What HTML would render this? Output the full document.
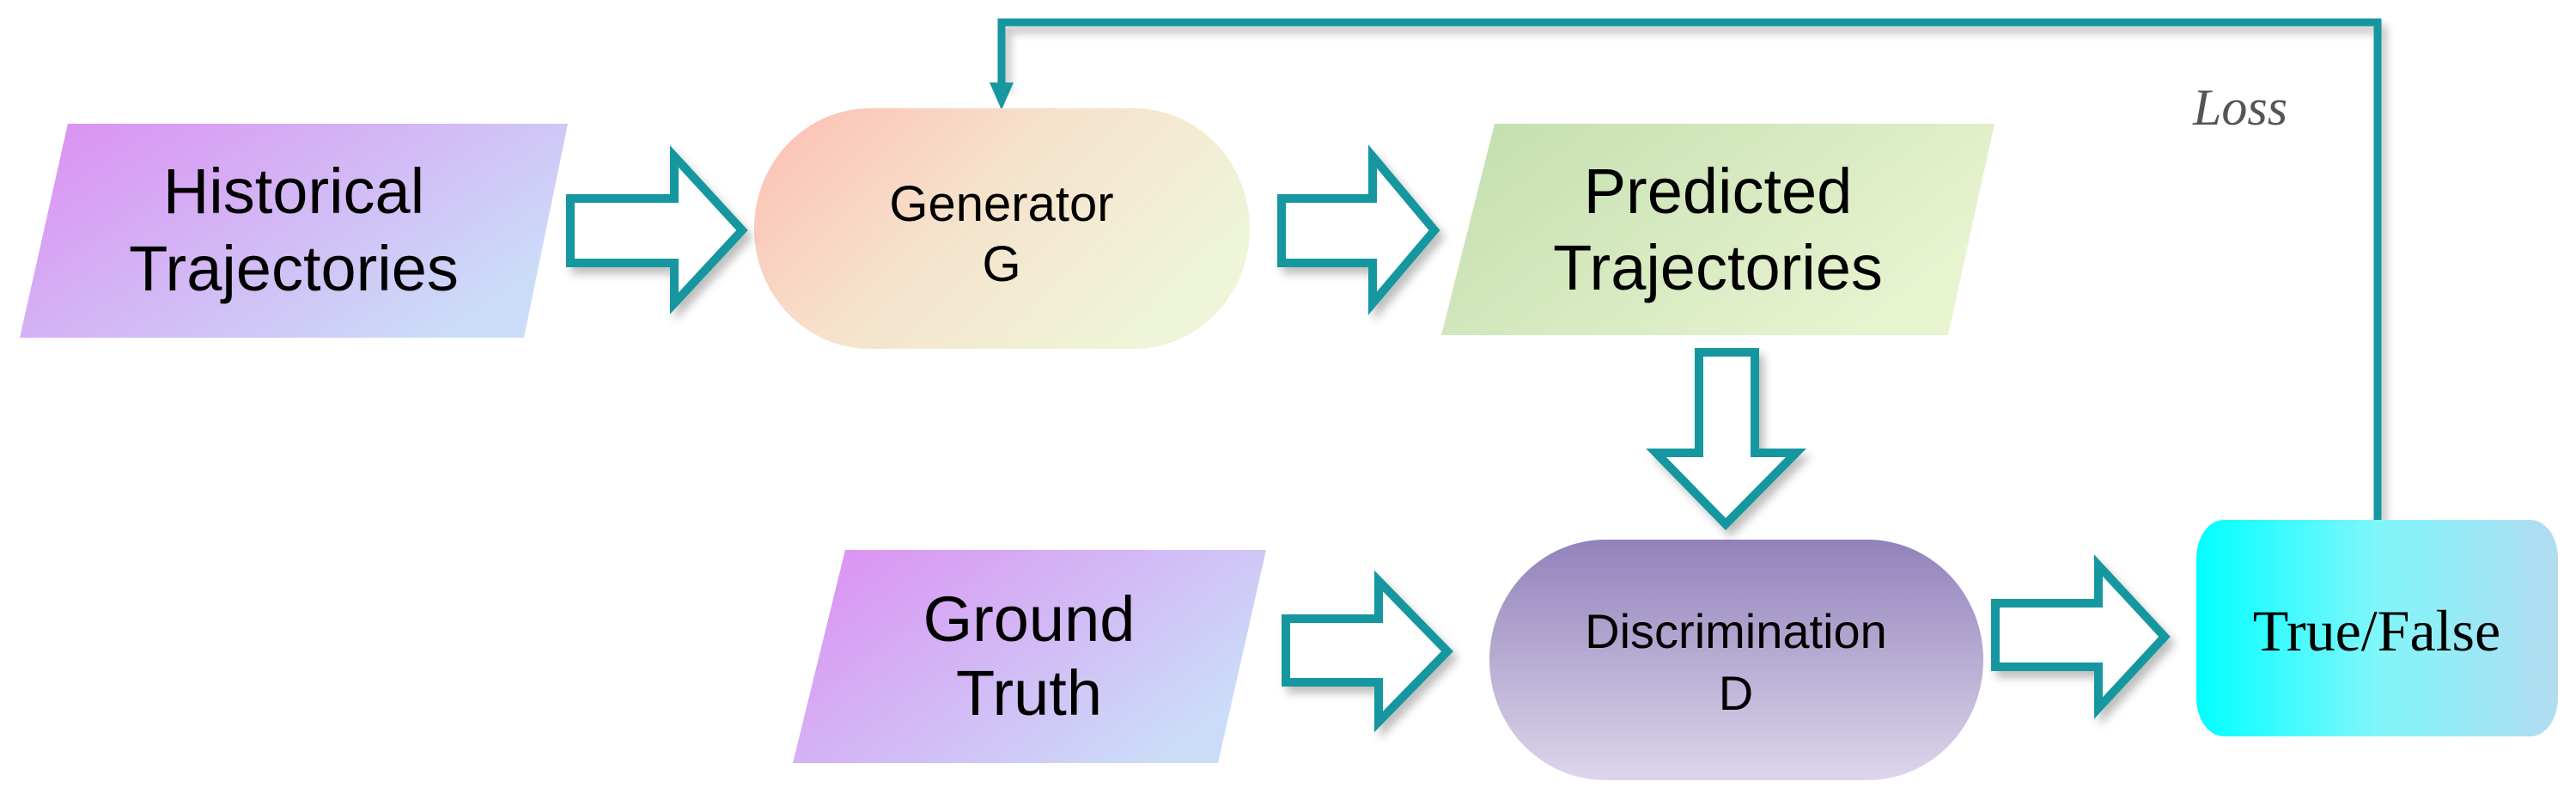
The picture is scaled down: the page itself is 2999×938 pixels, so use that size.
<!DOCTYPE html>
<html><head><meta charset="utf-8"><style>
html,body{margin:0;padding:0;background:#fff;}
svg{display:block;}
</style></head><body>
<svg width="2999" height="938" viewBox="0 0 2999 938" xmlns="http://www.w3.org/2000/svg">
<defs>
<linearGradient id="gp" x1="0" y1="0" x2="1" y2="0.6"><stop offset="0" stop-color="#dc8ef2"/><stop offset="1" stop-color="#cbdcf8"/></linearGradient>
<linearGradient id="gg" x1="0" y1="0" x2="1" y2="0.5"><stop offset="0" stop-color="#fdbdb2"/><stop offset="0.5" stop-color="#f6e2cc"/><stop offset="1" stop-color="#eef5d8"/></linearGradient>
<linearGradient id="gpr" x1="0" y1="0" x2="1" y2="0.5"><stop offset="0" stop-color="#c2deae"/><stop offset="1" stop-color="#e8f3d0"/></linearGradient>
<linearGradient id="gd" x1="0" y1="0" x2="0" y2="1"><stop offset="0" stop-color="#9282bb"/><stop offset="1" stop-color="#ddd6eb"/></linearGradient>
<linearGradient id="gt" x1="0" y1="0" x2="1" y2="0"><stop offset="0" stop-color="#00ffff"/><stop offset="0.5" stop-color="#80f6fa"/><stop offset="1" stop-color="#b2dcf0"/></linearGradient>
<filter id="sh" x="-20%" y="-20%" width="140%" height="140%"><feDropShadow dx="6" dy="8" stdDeviation="5" flood-color="#000" flood-opacity="0.25"/></filter>
</defs>

<!-- feedback line -->
<polyline points="2768,605 2768,26 1166,26 1166,100" fill="none" stroke="#17979f" stroke-width="9" filter="url(#sh)"/>
<polygon points="1152,96 1180,96 1166,128" fill="#17979f"/>
<text x="2553" y="145" font-family="Liberation Serif, serif" font-style="italic" font-size="60" fill="#555">Loss</text>

<!-- Historical -->
<polygon points="79,144 661,144 610,393 23,393" fill="url(#gp)"/>
<text font-family="Liberation Sans, sans-serif" font-size="74" fill="#000" text-anchor="middle"><tspan x="342" y="248">Historical</tspan><tspan x="342" y="338">Trajectories</tspan></text>

<!-- Generator -->
<rect x="878" y="126" width="577" height="280" rx="135" ry="140" fill="url(#gg)"/>
<text font-family="Liberation Sans, sans-serif" font-size="58" fill="#000" text-anchor="middle"><tspan x="1166" y="257">Generator</tspan><tspan x="1166" y="327">G</tspan></text>

<!-- Predicted -->
<polygon points="1740,144 2322,144 2268,390 1678,390" fill="url(#gpr)"/>
<text font-family="Liberation Sans, sans-serif" font-size="74" fill="#000" text-anchor="middle"><tspan x="2000" y="248">Predicted</tspan><tspan x="2000" y="337">Trajectories</tspan></text>

<!-- Ground Truth -->
<polygon points="984,640 1474,640 1418,888 923,888" fill="url(#gp)"/>
<text font-family="Liberation Sans, sans-serif" font-size="74" fill="#000" text-anchor="middle"><tspan x="1198" y="746">Ground</tspan><tspan x="1198" y="832">Truth</tspan></text>

<!-- Discrimination -->
<rect x="1734" y="628" width="575" height="280" rx="135" ry="140" fill="url(#gd)"/>
<text font-family="Liberation Sans, sans-serif" font-size="56" fill="#000" text-anchor="middle"><tspan x="2021" y="754">Discrimination</tspan><tspan x="2021" y="826">D</tspan></text>

<!-- True/False -->
<rect x="2557" y="605" width="421" height="252" rx="32" ry="45" fill="url(#gt)"/>
<text x="2767" y="757" font-family="Liberation Serif, serif" font-size="68" fill="#000" text-anchor="middle">True/False</text>

<!-- block arrows -->
<g fill="#fff" stroke="#17979f" stroke-width="10" stroke-linejoin="miter" filter="url(#sh)">
<polygon points="664,231 785,231 785,182 864,268 785,353 785,306 664,306"/>
<polygon points="1492,231 1598,231 1598,182 1670,268 1598,353 1598,306 1492,306"/>
<polygon points="1978,410 2043,410 2043,527 2091,527 2009,610 1928,527 1978,527"/>
<polygon points="1497,720 1605,720 1605,676 1685,758 1605,840 1605,794 1497,794"/>
<polygon points="2323,702 2443,702 2443,658 2520,741 2443,824 2443,776 2323,776"/>
</g>
</svg>
</body></html>
